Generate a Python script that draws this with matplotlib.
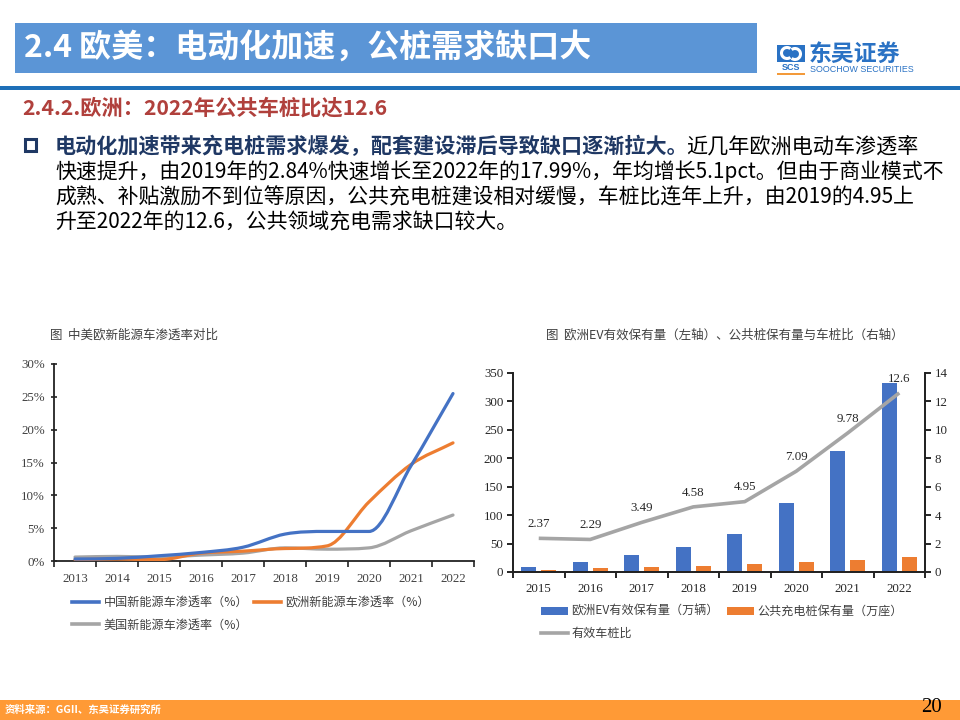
import matplotlib
matplotlib.use('Agg')
import matplotlib.pyplot as plt
from matplotlib.path import Path
from matplotlib.patches import PathPatch, Rectangle, Arc, Patch
from matplotlib.lines import Line2D
import numpy as np

plt.rcParams['font.family'] = ['Noto Sans CJK SC', 'DejaVu Sans']

# ---------------- data ----------------
years_left = ['2013', '2014', '2015', '2016', '2017', '2018', '2019', '2020', '2021', '2022']
china_pen = [0.3, 0.4, 0.8, 1.3, 2.1, 4.1, 4.5, 4.5, 14.5, 25.5]
europe_pen = [0.2, 0.3, 0.2, 1.2, 1.5, 1.9, 2.3, 9.0, 14.7, 17.99]
usa_pen = [0.6, 0.7, 0.6, 0.9, 1.2, 2.0, 1.8, 2.0, 4.6, 7.0]
left_series_names = ['中国新能源车渗透率（%）', '欧洲新能源车渗透率（%）', '美国新能源车渗透率（%）']
left_yticks = [0, 5, 10, 15, 20, 25, 30]

years_right = ['2015', '2016', '2017', '2018', '2019', '2020', '2021', '2022']
ev_stock = [9.4, 17.6, 29.9, 44.5, 67.4, 122, 213, 333]
public_piles = [4.0, 7.7, 8.6, 9.7, 13.6, 17.2, 21.8, 26.4]
ev_pile_ratio = [2.37, 2.29, 3.49, 4.58, 4.95, 7.09, 9.78, 12.6]
right_series_names = ['欧洲EV有效保有量（万辆）', '公共充电桩保有量（万座）', '有效车桩比']
right_yticks_left = [0, 50, 100, 150, 200, 250, 300, 350]
right_yticks_right = [0, 2, 4, 6, 8, 10, 12, 14]

header_title = '2.4 欧美：电动化加速，公桩需求缺口大'
sub_title = '2.4.2.欧洲：2022年公共车桩比达12.6'
para_bold = '电动化加速带来充电桩需求爆发，配套建设滞后导致缺口逐渐拉大。'
para_lines = [
    '近几年欧洲电动车渗透率',
    '快速提升，由2019年的2.84%快速增长至2022年的17.99%，年均增长5.1pct。但由于商业模式不',
    '成熟、补贴激励不到位等原因，公共充电桩建设相对缓慢，车桩比连年上升，由2019的4.95上',
    '升至2022年的12.6，公共领域充电需求缺口较大。',
]
left_title = '图  中美欧新能源车渗透率对比'
right_title = '图  欧洲EV有效保有量（左轴）、公共桩保有量与车桩比（右轴）'
source_text = '资料来源：GGII、东吴证券研究所'
page_no = '20'

BLUE = '#4472C4'
ORANGE = '#ED7D31'
GRAY = '#A5A5A5'

W, H = 960, 720
fig = plt.figure(figsize=(9.6, 7.2), dpi=100)


def fx(x):
    return x / W


def fy(y):
    return 1 - y / H


def frect(x0, y0, x1, y1, color):
    fig.add_artist(Rectangle((fx(x0), fy(y1)), (x1 - x0) / W, (y1 - y0) / H,
                             transform=fig.transFigure, facecolor=color,
                             edgecolor='none', zorder=0))


# ---------------- header ----------------
frect(15, 23, 757, 73, '#5B95D6')
fig.text(fx(24), fy(48), header_title, color='white', fontsize=23,
         fontweight='bold', va='center', ha='left')
frect(0, 86, 960, 90, '#1E6FB8')

# logo
frect(777, 45, 805, 62, '#2A72C4')
fig.add_artist(Arc((fx(787), fy(53)), 11 / W, 11 / H, theta1=60, theta2=300,
                   transform=fig.transFigure, color='white', lw=2.2))
fig.add_artist(Arc((fx(795), fy(54)), 11 / W, 11 / H, theta1=240, theta2=480,
                   transform=fig.transFigure, color='white', lw=2.2))
fig.text(fx(791), fy(67.5), 'SCS', color='#2A72C4', fontsize=6.5,
         fontweight='bold', ha='center', va='center', family='Liberation Sans')
frect(777, 72.5, 805, 75, '#F39A3A')
fig.text(fx(809), fy(54), '东吴证券', color='#2A72C4', fontsize=16.5,
         fontweight='bold', ha='left', va='center')
fig.text(fx(810), fy(70), 'SOOCHOW SECURITIES', color='#2A72C4', fontsize=6.4,
         ha='left', va='center', family='Liberation Sans')

# ---------------- subtitle & paragraph ----------------
fig.text(fx(22), fy(108), sub_title, color='#B0403C', fontsize=15.3,
         fontweight='bold', va='center', ha='left')

fig.add_artist(Rectangle((fx(25), fy(151)), 11 / W, 12 / H,
                         transform=fig.transFigure, facecolor='white',
                         edgecolor='#1F3864', lw=2.2))
t1 = fig.text(fx(55), fy(146), para_bold, color='#1F3864', fontsize=15.2,
              fontweight='bold', va='center', ha='left')
r = fig.canvas.get_renderer()
bb = t1.get_window_extent(r)
fig.text(bb.x1 / W - fx(3), fy(146), para_lines[0], color='black',
         fontsize=15.2, va='center', ha='left')
line_y = [172, 197, 222]
for yy, txt in zip(line_y, para_lines[1:]):
    fig.text(fx(55), fy(yy), txt, color='black', fontsize=15,
             va='center', ha='left')

# ---------------- left chart ----------------
fig.text(fx(50), fy(335), left_title, color='#404040', fontsize=9,
         va='center', ha='left')

ax1 = fig.add_axes([fx(54), fy(561), (474 - 54) / W, (561 - 364) / H])
ax1.set_xlim(-0.5, len(years_left) - 0.5)
ax1.set_ylim(0, 30)


def smooth_path(xs, ys):
    """Monotone cubic (Fritsch-Carlson) curve through the data points,
    expressed as Bezier segments."""
    xs = np.asarray(xs, float)
    ys = np.asarray(ys, float)
    n = len(xs)
    h = np.diff(xs)
    d = np.diff(ys) / h
    m = np.zeros(n)
    m[0], m[-1] = d[0], d[-1]
    for k in range(1, n - 1):
        if d[k - 1] * d[k] <= 0:
            m[k] = 0.0
        else:
            m[k] = (d[k - 1] + d[k]) / 2.0
    for k in range(n - 1):
        if d[k] == 0:
            m[k] = m[k + 1] = 0.0
        else:
            a, b = m[k] / d[k], m[k + 1] / d[k]
            s = a * a + b * b
            if s > 9:
                tau = 3 / np.sqrt(s)
                m[k], m[k + 1] = tau * a * d[k], tau * b * d[k]
    verts = [(xs[0], ys[0])]
    codes = [Path.MOVETO]
    for k in range(n - 1):
        verts += [(xs[k] + h[k] / 3, ys[k] + m[k] * h[k] / 3),
                  (xs[k + 1] - h[k] / 3, ys[k + 1] - m[k + 1] * h[k] / 3),
                  (xs[k + 1], ys[k + 1])]
        codes += [Path.CURVE4] * 3
    return Path(verts, codes)


xl = np.arange(len(years_left))
for series, col, z in [(usa_pen, GRAY, 2), (europe_pen, ORANGE, 3), (china_pen, BLUE, 4)]:
    ax1.add_patch(PathPatch(smooth_path(xl, series), facecolor='none',
                            edgecolor=col, lw=2.3, zorder=z, capstyle='round'))

for s in ['top', 'right']:
    ax1.spines[s].set_visible(False)
for s in ['left', 'bottom']:
    ax1.spines[s].set_color('#222222')
    ax1.spines[s].set_linewidth(1.3)
ax1.set_yticks(left_yticks)
ax1.set_yticklabels([f'{v}%' for v in left_yticks])
ax1.set_xticks(xl)
ax1.set_xticklabels(years_left)
ax1.set_xticks(np.arange(-0.5, len(years_left)), minor=True)
ax1.tick_params(axis='x', which='major', length=0, pad=9)
ax1.tick_params(axis='x', which='minor', length=4, direction='out', width=1.2,
                color='#222222')
ax1.tick_params(axis='y', length=5, direction='inout', width=1.2, pad=4,
                color='#222222')
for lab in ax1.get_xticklabels() + ax1.get_yticklabels():
    lab.set_fontfamily('Liberation Serif')
    lab.set_fontsize(9.3)
    lab.set_color('#404040')

h_cn = Line2D([], [], color=BLUE, lw=2.6)
h_eu = Line2D([], [], color=ORANGE, lw=2.6)
h_us = Line2D([], [], color=GRAY, lw=2.6)
leg1 = fig.legend([h_cn, h_us, h_eu],
                  [left_series_names[0], left_series_names[2], left_series_names[1]],
                  ncol=2, loc='upper left', bbox_to_anchor=(fx(72), fy(596)),
                  frameon=False, borderpad=0, borderaxespad=0,
                  handlelength=2.2, handletextpad=0.4, columnspacing=0.5,
                  labelspacing=0.8, prop={'size': 8.7})
for t in leg1.get_texts():
    t.set_color('#404040')

# ---------------- right chart ----------------
fig.text(fx(725), fy(335), right_title, color='#404040', fontsize=9,
         va='center', ha='center')

ax2 = fig.add_axes([fx(513), fy(572), (925 - 513) / W, (572 - 373) / H])
xr = np.arange(len(years_right))
ax2.set_xlim(-0.5, len(years_right) - 0.5)
ax2.set_ylim(0, 350)
ax2.bar(xr - 0.195, ev_stock, width=0.29, color=BLUE, zorder=2)
ax2.bar(xr + 0.195, public_piles, width=0.29, color=ORANGE, zorder=2)
ax2.set_yticks(right_yticks_left)
ax2.set_xticks(xr)
ax2.set_xticklabels(years_right)
ax2.set_xticks(np.arange(-0.5, len(years_right)), minor=True)
ax2.tick_params(axis='x', which='major', length=0, pad=8)
ax2.tick_params(axis='x', which='minor', length=4, direction='out', width=1.2)
ax2.tick_params(axis='y', length=4, direction='out', width=1.2, pad=3)

ax3 = ax2.twinx()
ax3.set_ylim(0, 14)
ax3.set_yticks(right_yticks_right)
ax3.tick_params(axis='y', length=4, direction='out', width=1.2, pad=3)
ax3.plot(xr, ev_pile_ratio, color=GRAY, lw=2.6, zorder=3,
         solid_capstyle='butt')
for xi, v in zip(xr, ev_pile_ratio):
    ax3.annotate(str(v), (xi, v), xytext=(0, 6), textcoords='offset points',
                 ha='center', va='bottom', fontsize=9.3,
                 family='Liberation Serif', color='#262626')

for a in (ax2, ax3):
    a.spines['top'].set_visible(False)
    for s in ['left', 'right', 'bottom']:
        a.spines[s].set_color('#222222')
        a.spines[s].set_linewidth(1.3)
for lab in ax2.get_xticklabels() + ax2.get_yticklabels() + ax3.get_yticklabels():
    lab.set_fontfamily('Liberation Serif')
    lab.set_fontsize(9.3)
    lab.set_color('#262626')

h_ev = Patch(facecolor=BLUE, edgecolor='none')
h_pile = Patch(facecolor=ORANGE, edgecolor='none')
h_ratio = Line2D([], [], color=GRAY, lw=2.6)
leg2 = fig.legend([h_ev, h_ratio, h_pile],
                  [right_series_names[0], right_series_names[2], right_series_names[1]],
                  ncol=2, loc='upper left', bbox_to_anchor=(fx(541), fy(605)),
                  frameon=False, borderpad=0, borderaxespad=0,
                  handlelength=2.2, handletextpad=0.3, columnspacing=0.7,
                  labelspacing=0.75, prop={'size': 8.7})
for t in leg2.get_texts():
    t.set_color('#404040')

# ---------------- footer ----------------
frect(0, 700, 960, 720, '#FF9A36')
fig.text(fx(5), fy(710), source_text, color='white', fontsize=7.5,
         fontweight='bold', va='center', ha='left')
fig.text(fx(942), fy(708), page_no, color='black', fontsize=15,
         family='Liberation Serif', va='center', ha='right')

fig.savefig('out.png', dpi=100)
